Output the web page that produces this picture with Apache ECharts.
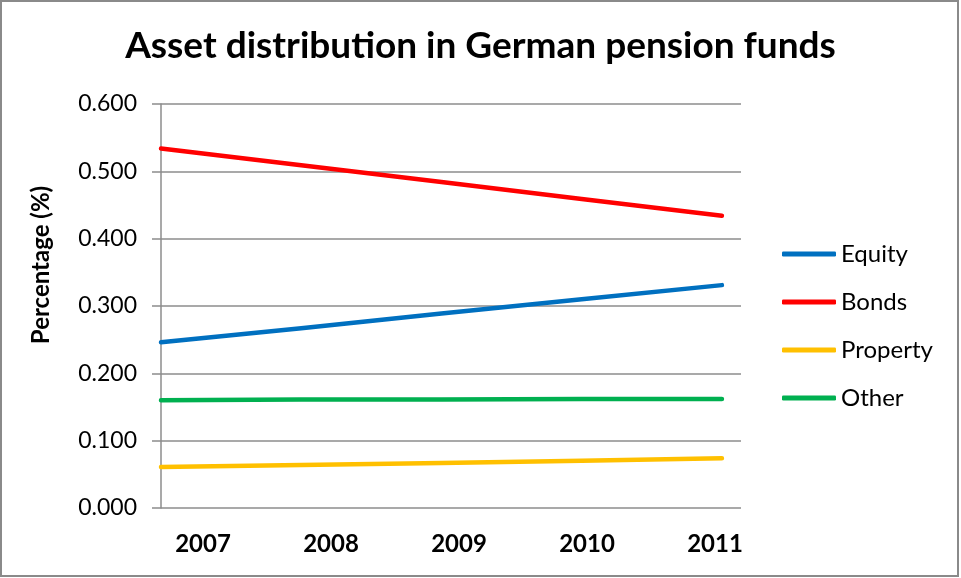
<!DOCTYPE html>
<html>
<head>
<meta charset="utf-8">
<title>Asset distribution in German pension funds</title>
<script src="https://cdn.jsdelivr.net/npm/echarts@6/dist/echarts.min.js"></script>
<style>
  html, body { margin: 0; padding: 0; background: #fff; }
  #chart { width: 961px; height: 578px; }
</style>
</head>
<body>
<div id="chart"></div>
<script>
// Category labels and their numeric positions
const yearLabels = ['2007', '2008', '2009', '2010', '2011'];
const yearValues = [2007, 2008, 2009, 2010, 2011];

// Share of assets per class
const equity   = [0.246, 0.267, 0.289, 0.310, 0.331];
const bonds    = [0.534, 0.509, 0.484, 0.459, 0.434];
const property = [0.061, 0.064, 0.067, 0.070, 0.074];
const other    = [0.160, 0.161, 0.161, 0.162, 0.162];

// Value axis ticks
const yMin = 0, yMax = 0.6, yStep = 0.1;

const FONT = 'Lato, "Open Sans", sans-serif';

function pairs(values) {
  return yearValues.map((y, i) => [y, values[i]]);
}

const seriesDefs = [
  { name: 'Equity',   data: equity,   color: '#0070C0' },
  { name: 'Bonds',    data: bonds,    color: '#FF0000' },
  { name: 'Property', data: property, color: '#FFC000' },
  { name: 'Other',    data: other,    color: '#00B050' }
];

const chart = echarts.init(document.getElementById('chart'), null, { renderer: 'canvas' });

chart.setOption({
  backgroundColor: '#ffffff',
  animation: false,
  title: {
    text: 'Asset distribution in German pension funds',
    left: 'center',
    top: 23,
    textStyle: { fontFamily: FONT, fontWeight: 'bold', fontSize: 37, color: '#000' }
  },
  legend: {
    orient: 'vertical',
    left: 777,
    top: 237,
    itemWidth: 54,
    itemHeight: 5,
    itemGap: 24,
    icon: 'roundRect',
    textStyle: { fontFamily: FONT, fontSize: 24, color: '#000', lineHeight: 24 },
    data: seriesDefs.map(s => s.name)
  },
  grid: [
    { left: 161, right: 220, top: 104, bottom: 70 },
    { left: 139, right: 182, top: 104, bottom: 70 }
  ],
  xAxis: [
    {
      type: 'value', gridIndex: 0,
      min: 2007, max: 2011.136,
      show: false
    },
    {
      type: 'category', gridIndex: 1,
      data: yearLabels,
      boundaryGap: true,
      axisLine: { show: false },
      axisTick: { show: false },
      splitLine: { show: false },
      axisLabel: {
        margin: 24,
        fontFamily: FONT, fontWeight: 'bold', fontSize: 24, color: '#000'
      }
    }
  ],
  yAxis: [
    {
      type: 'value', gridIndex: 0,
      min: yMin, max: yMax, interval: yStep,
      name: 'Percentage (%)',
      nameLocation: 'middle',
      nameGap: 108,
      nameTextStyle: {
        fontFamily: FONT, fontWeight: 'bold', fontSize: 24, color: '#000',
        padding: [0, 0, 0, 82]
      },
      axisLine: { show: true, lineStyle: { color: '#8c8c8c', width: 1.5 } },
      axisTick: { show: true, inside: false, length: 9, lineStyle: { color: '#8c8c8c', width: 1.5 } },
      splitLine: { show: true, lineStyle: { color: '#8c8c8c', width: 1.5 } },
      axisLabel: {
        margin: 24,
        fontFamily: FONT, fontSize: 23, color: '#000',
        formatter: v => v.toFixed(3)
      }
    },
    {
      type: 'value', gridIndex: 1, min: 0, max: 1, show: false
    }
  ],
  graphic: [
    {
      type: 'rect',
      shape: { x: 1, y: 1, width: 957, height: 575 },
      style: { fill: 'none', stroke: '#8a8a8a', lineWidth: 2 },
      silent: true
    }
  ],
  series: seriesDefs.map(s => ({
    name: s.name,
    type: 'line',
    xAxisIndex: 0,
    yAxisIndex: 0,
    data: pairs(s.data),
    showSymbol: false,
    symbol: 'none',
    color: s.color,
    lineStyle: { color: s.color, width: 4.5, cap: 'round', join: 'round' },
    itemStyle: { color: s.color }
  }))
});
</script>
</body>
</html>
